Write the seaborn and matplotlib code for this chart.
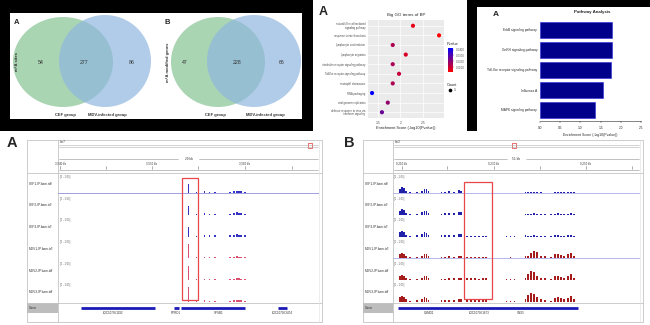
import numpy as np
import pandas as pd
import matplotlib
matplotlib.use("Agg")
import matplotlib.pyplot as plt
import seaborn as sns
from matplotlib.patches import Rectangle, Ellipse
from matplotlib.colors import LinearSegmentedColormap, Normalize
from matplotlib.cm import ScalarMappable

# ---------------- data ----------------
venn_groups = ["CEF group", "MDV-infected group"]
venn_sites = [54, 277, 86]
venn_genes = [47, 228, 66]
venn_titles = ["m\u2076A sites", "m\u2076A modified genes"]

go_terms = ["natural killer cell mediated\nsignaling pathway", "response to interferon-beta",
            "lymphocyte costimulation", "lymphocyte migration",
            "interleukin receptor signaling pathway", "Toll-like receptor signaling pathway",
            "neutrophil chemotaxis", "RNA packaging", "viral genome replication",
            "defense response to virus via\ninterferon signaling"]
go_scores = [2.28, 2.86, 1.83, 2.12, 1.83, 1.97, 1.83, 1.37, 1.72, 1.59]
go_pvalues = [0.0052, 0.0014, 0.0148, 0.0076, 0.0148, 0.0107, 0.0148, 0.0427, 0.0191, 0.0257]
go_counts = [1, 1, 1, 1, 1, 1, 1, 1, 1, 1]
go_ticks = [1.5, 2.0, 2.5]
pv_ticks = [0.01, 0.02, 0.03, 0.04]

kegg_terms = ["ErbB signaling pathway", "GnRH signaling pathway",
              "Toll-like receptor signaling pathway", "Influenza A", "MAPK signaling pathway"]
kegg_scores = [1.78, 1.78, 1.75, 1.55, 1.35]
kegg_ticks = [0.0, 0.5, 1.0, 1.5, 2.0, 2.5]

track_names = ["CEF1-IP.bam.tdf", "CEF2-IP.bam.tdf", "CEF3-IP.bam.tdf",
               "MDV1-IP.bam.tdf", "MDV2-IP.bam.tdf", "MDV3-IP.bam.tdf"]

A_pos = [50.0, 53.0, 56.1, 58.0, 60.2, 65.9, 67.4, 68.6, 69.3, 70.1, 71.6]
A_cef1 = [0.48, 0.08, 0.10, 0.06, 0.05, 0.06, 0.10, 0.14, 0.12, 0.10, 0.07]
A_cef2 = [0.45, 0.06, 0.09, 0.07, 0.05, 0.05, 0.09, 0.13, 0.11, 0.08, 0.06]
A_cef3 = [0.50, 0.05, 0.08, 0.08, 0.06, 0.06, 0.10, 0.12, 0.10, 0.09, 0.06]
A_mdv1 = [0.72, 0.04, 0.06, 0.05, 0.04, 0.05, 0.08, 0.10, 0.09, 0.07, 0.05]
A_mdv2 = [0.70, 0.04, 0.05, 0.05, 0.03, 0.05, 0.07, 0.11, 0.08, 0.06, 0.05]
A_mdv3 = [0.74, 0.05, 0.06, 0.04, 0.04, 0.05, 0.08, 0.10, 0.09, 0.07, 0.05]
A_gene_start = [8.7, 44.3, 47.0, 84.1]
A_gene_end = [37.1, 46.2, 71.6, 87.9]
A_gene_names = ["LOC107051192", "RPRD1", "SPSB1", "LOC107053474"]
A_gene_labpos = [21.0, 45.0, 61.4, 86.0]
A_ticks = [0.8, 18.5, 36.0, 53.8, 71.6, 89.5]
A_tick_labels = ["3,540 kb", "", "3,550 kb", "", "3,560 kb", ""]

B_pos = [2.8, 3.6, 4.4, 5.2, 6.8, 9.6, 11.6, 12.8, 13.6, 14.4, 19.6, 21.2, 22.8, 24.8,
         26.8, 27.6, 30.0, 31.6, 33.2, 34.8, 36.4, 37.6, 46.0, 47.6, 49.2, 53.6, 54.8,
         56.0, 57.2, 58.4, 60.0, 61.6, 64.0, 65.6, 66.8, 68.0, 69.2, 70.8, 72.0, 73.2]
B_cef1 = [0.22, 0.32, 0.28, 0.12, 0.05, 0.07, 0.14, 0.22, 0.20, 0.10, 0.07, 0.09, 0.10, 0.09,
          0.16, 0.14, 0.03, 0.02, 0.02, 0.02, 0.02, 0.03, 0.01, 0.02, 0.02, 0.07, 0.05,
          0.06, 0.08, 0.05, 0.04, 0.03, 0.03, 0.06, 0.08, 0.05, 0.04, 0.07, 0.08, 0.05]
B_cef2 = [0.20, 0.30, 0.26, 0.12, 0.05, 0.06, 0.13, 0.20, 0.19, 0.10, 0.06, 0.08, 0.10, 0.08,
          0.15, 0.13, 0.02, 0.02, 0.02, 0.02, 0.02, 0.02, 0.01, 0.02, 0.02, 0.06, 0.06,
          0.05, 0.08, 0.05, 0.04, 0.03, 0.03, 0.07, 0.08, 0.05, 0.04, 0.06, 0.08, 0.05]
B_cef3 = [0.22, 0.30, 0.25, 0.10, 0.04, 0.07, 0.12, 0.21, 0.18, 0.09, 0.06, 0.08, 0.09, 0.09,
          0.15, 0.14, 0.02, 0.02, 0.02, 0.02, 0.02, 0.02, 0.01, 0.02, 0.01, 0.06, 0.05,
          0.05, 0.07, 0.05, 0.04, 0.03, 0.03, 0.06, 0.07, 0.05, 0.04, 0.06, 0.07, 0.05]
B_mdv1 = [0.20, 0.28, 0.24, 0.14, 0.05, 0.07, 0.14, 0.24, 0.20, 0.10, 0.06, 0.08, 0.10, 0.09,
          0.12, 0.12, 0.08, 0.07, 0.08, 0.06, 0.07, 0.07, 0.03, 0.04, 0.03, 0.10, 0.14,
          0.28, 0.35, 0.30, 0.14, 0.10, 0.05, 0.20, 0.22, 0.18, 0.12, 0.20, 0.28, 0.12]
B_mdv2 = [0.20, 0.26, 0.22, 0.12, 0.05, 0.06, 0.12, 0.22, 0.18, 0.10, 0.06, 0.07, 0.09, 0.08,
          0.12, 0.11, 0.10, 0.09, 0.08, 0.07, 0.08, 0.08, 0.03, 0.03, 0.03, 0.12, 0.30,
          0.48, 0.40, 0.22, 0.12, 0.08, 0.05, 0.18, 0.20, 0.16, 0.12, 0.22, 0.30, 0.10]
B_mdv3 = [0.21, 0.27, 0.23, 0.13, 0.05, 0.06, 0.13, 0.22, 0.19, 0.10, 0.06, 0.08, 0.09, 0.08,
          0.12, 0.12, 0.10, 0.09, 0.09, 0.07, 0.08, 0.08, 0.03, 0.04, 0.03, 0.12, 0.32,
          0.46, 0.38, 0.24, 0.12, 0.08, 0.05, 0.18, 0.22, 0.16, 0.12, 0.20, 0.30, 0.12]
B_gene_start = [2.0]
B_gene_end = [74.8]
B_gene_names = ["CSMD1", "LOC107051673", "SNX5"]
B_gene_labpos = [14.8, 34.8, 51.6]
B_ticks = [3.6, 22.0, 40.8, 59.6, 78.0, 96.8]
B_tick_labels = ["9,210 kb", "", "9,230 kb", "", "9,250 kb", ""]

# ---------------- figure ----------------
sns.set_theme(style="white")
plt.rcParams["font.family"] = ["Liberation Sans", "DejaVu Sans"]
W, H = 650, 325
fig = plt.figure(figsize=(6.5, 3.25), dpi=100)
fig.patch.set_facecolor("white")


def ax_px(x0, y0, x1, y1, z=1):
    a = fig.add_axes([x0 / W, 1 - y1 / H, (x1 - x0) / W, (y1 - y0) / H])
    a.set_zorder(z)
    return a


page = ax_px(0, 0, W, H, z=0)
page.set_xlim(0, W)
page.set_ylim(H, 0)
page.axis("off")

# black backgrounds
page.add_patch(Rectangle((0, 0), 313, 131, color="black", lw=0))
page.add_patch(Rectangle((10, 13), 292, 106, color="white", lw=0))
page.add_patch(Rectangle((467, 0), 10, 131, color="black", lw=0))
page.add_patch(Rectangle((467, 0), 183, 7, color="black", lw=0))

# ---------------- Venn diagrams ----------------
green, blue = "#8DC79A", "#8FB7DF"
venn_specs = [
    dict(g=(63, 100), b=(105, 92), vals=venn_sites, title=venn_titles[0], tx=17,
         lab="A", labx=17, num_x=(41, 84, 132), grp_x=(65, 107)),
    dict(g=(218, 94), b=(254, 94), vals=venn_genes, title=venn_titles[1], tx=168,
         lab="B", labx=167, num_x=(185, 237, 282), grp_x=(215, 265)),
]
for sp in venn_specs:
    page.add_patch(Ellipse((sp["g"][0], 62), sp["g"][1], 90, color=green, alpha=0.75, lw=0))
    page.add_patch(Ellipse((sp["b"][0], 61), sp["b"][1], 92, color=blue, alpha=0.7, lw=0))
    for nx, v in zip(sp["num_x"], sp["vals"]):
        page.text(nx, 62, str(v), fontsize=3.8, ha="center", va="center", color="#333333")
    for gx, gname in zip(sp["grp_x"], venn_groups):
        page.text(gx, 115, gname, fontsize=3.0, fontweight="bold",
                  ha="center", va="center", color="#333333")
    page.text(sp["tx"], 62, sp["title"], rotation=90, fontsize=3.0, fontweight="bold",
              ha="center", va="center", color="#333333")
    page.text(sp["labx"], 22, sp["lab"], fontsize=5.5, fontweight="bold",
              ha="center", va="center")

# ---------------- GO dot plot ----------------
page.text(323, 12, "A", fontsize=9, fontweight="bold", ha="center", va="center")
page.text(406, 15, "Big GO terms of BP", fontsize=3.2, ha="center", va="center")
go_df = pd.DataFrame({"term": go_terms, "score": go_scores,
                      "pvalue": go_pvalues, "count": go_counts})
cmap = LinearSegmentedColormap.from_list("rb", ["#FF0000", "#0000FF"])
pnorm = Normalize(min(go_pvalues), max(go_pvalues))
ax_go = ax_px(368, 20, 444, 118)
ax_go.set_facecolor("#EBEBEB")
sns.scatterplot(data=go_df, x="score", y="term", hue="pvalue", palette=cmap,
                hue_norm=pnorm, s=9, linewidth=0, legend=False, ax=ax_go, zorder=3)
ax_go.set_xlim(1.28, 2.97)
ax_go.set_ylim(len(go_terms) - 0.4, -0.6)
ax_go.set_xticks(go_ticks)
ax_go.set_xticklabels([f"{t:g}" for t in go_ticks])
ax_go.grid(True, color="white", lw=0.5)
ax_go.set_axisbelow(True)
for s in ax_go.spines.values():
    s.set_visible(False)
ax_go.tick_params(axis="x", labelsize=2.4, colors="#4D4D4D", length=1, width=0.3, pad=1)
ax_go.tick_params(axis="y", labelsize=1.9, colors="#4D4D4D", length=1, width=0.3, pad=1)
for t in ax_go.get_yticklabels():
    t.set_linespacing(0.9)
ax_go.set_xlabel("Enrichment Score (-log10(Pvalue))", fontsize=2.8, labelpad=1)
ax_go.set_ylabel("")

cax = ax_px(448, 48, 453, 72)
cb = fig.colorbar(ScalarMappable(norm=pnorm, cmap=cmap), cax=cax)
cb.set_ticks(pv_ticks)
cb.set_ticklabels([f"{t:.4f}" for t in pv_ticks])
cb.ax.tick_params(labelsize=2.0, length=0.8, width=0.3, pad=1, colors="#4D4D4D")
cb.outline.set_visible(False)
page.text(447, 44, "Pvalue", fontsize=2.8, ha="left", va="center")
page.text(447, 85, "Count", fontsize=2.8, ha="left", va="center")
page.scatter([450], [90], s=7, color="black", lw=0)
page.text(454, 90, str(go_counts[0]), fontsize=2.4, ha="left", va="center")

# ---------------- Pathway bar chart ----------------
page.text(496, 15, "A", fontsize=6, fontweight="bold", ha="center", va="center")
page.text(592, 12, "Pathway Analysis", fontsize=3.2, fontweight="bold",
          ha="center", va="center")
kegg_df = pd.DataFrame({"term": kegg_terms, "score": kegg_scores})
ax_pw = ax_px(540, 20, 641, 120)
sns.barplot(data=kegg_df, x="score", y="term", orient="h", color="#00008B",
            edgecolor="#2828E0", linewidth=0.4, width=0.8, saturation=1, ax=ax_pw)
ax_pw.set_xlim(0, 2.5)
ax_pw.set_ylim(4.5, -0.5)
for k in ["top", "right", "left"]:
    ax_pw.spines[k].set_visible(False)
ax_pw.spines["bottom"].set_linewidth(0.4)
ax_pw.spines["bottom"].set_position(("outward", 1))
ax_pw.set_xticks(kegg_ticks)
ax_pw.set_xticklabels([f"{t:.1f}" for t in kegg_ticks])
ax_pw.tick_params(axis="x", labelsize=2.3, length=1.5, width=0.3, pad=2, bottom=True)
ax_pw.tick_params(axis="y", labelsize=2.3, length=0, pad=2)
ax_pw.set_xlabel("Enrichment Score (-log10(Pvalue))", fontsize=2.5, labelpad=2)
ax_pw.set_ylabel("")
ax_pw.patch.set_alpha(0)


# ---------------- IGV panels ----------------
def igv(x0, x1, lab_w, pos, heights, colors, base_cols, gene_start, gene_end, gene_names,
        gene_labpos, ticks, tick_labels, scale_label, chrom, mark, box, label, lab_xy, bar_w):
    y0, yh, yt, yg, y1 = 140, 173, 303, 313, 322
    xd = x0 + lab_w
    line = "#C4C4C4"
    page.add_patch(Rectangle((x0, y0), x1 - x0, y1 - y0, fill=False, ec=line, lw=0.6))
    page.plot([x0, x1], [yh, yh], color=line, lw=0.6)
    page.plot([x0, x1], [yt, yt], color=line, lw=0.6)
    page.plot([xd, xd], [y0, y1], color=line, lw=0.6)
    page.plot([x1 - 3, x1 - 3], [y0, y1], color="#E0E0E0", lw=0.4)
    page.add_patch(Rectangle((x0, yt), lab_w, yg - yt, color="#BDBDBD", lw=0))
    page.text(x0 + 2, yt + 5, "Gene", fontsize=2.4, ha="left", va="center", color="#333333")
    page.text(*lab_xy, label, fontsize=10.5, fontweight="bold", ha="center", va="center")

    # ruler
    rax = ax_px(xd, y0, x1 - 3, yh, z=2)
    rax.set_xlim(0, 100)
    rax.set_ylim(33, 0)
    rax.axis("off")
    rax.text(0.8, 2.5, chrom, fontsize=2.2, ha="left", va="center", color="#333333")
    rax.plot([0.5, 99.5], [5.5, 5.5], color="#B0B0B0", lw=0.4)
    rax.plot([0.5, 99.5], [7.0, 7.0], color="#B0B0B0", lw=0.4)
    rax.add_patch(Rectangle((mark - 0.9, 3.5), 1.8, 5, fill=False, ec="#E03030", lw=0.5))
    rax.plot([0.5, 46], [19.5, 19.5], color="#909090", lw=0.4)
    rax.plot([54, 99.5], [19.5, 19.5], color="#909090", lw=0.4)
    rax.text(50, 19.5, scale_label, fontsize=2.3, ha="center", va="center", color="#333333")
    for t, tl in zip(ticks, tick_labels):
        rax.plot([t, t], [26.5, 29.5], color="#707070", lw=0.4)
        if tl:
            rax.text(t, 24, tl, fontsize=2.1, ha="center", va="center", color="#333333")
    rax.plot([0.5, 99.5], [30, 30], color="#909090", lw=0.4)

    # tracks
    band = (yt - yh) / 6
    for i in range(6):
        ty = yh + band * i
        page.text(x0 + 2, ty + band / 2, track_names[i], fontsize=2.3, ha="left",
                  va="center", color="#333333")
        tax = ax_px(xd, ty + 1, x1 - 3, ty + band - 1, z=2)
        tax.set_xlim(0, 100)
        tax.set_ylim(0, 1)
        tax.axis("off")
        tax.text(0.6, 0.95, "[0 - 1.00]", fontsize=1.8, ha="left", va="top", color="#555555")
        if base_cols[i]:
            tax.axhline(0.02, color=base_cols[i], lw=0.5)
        tax.bar(pos, heights[i], width=bar_w, bottom=0.02, color=colors[i], lw=0)

    # gene track
    gax = ax_px(xd, yt, x1 - 3, y1, z=2)
    gax.set_xlim(0, 100)
    gax.set_ylim(19, 0)
    gax.axis("off")
    gax.hlines([4.5] * len(gene_start), gene_start, gene_end, color="#1A1AB8", lw=2.0)
    for gp, gn in zip(gene_labpos, gene_names):
        gax.text(gp, 9.5, gn, fontsize=2.2, ha="center", va="center", color="#333333")

    # red highlight box
    bx0, bx1, by0, by1 = box
    over.add_patch(Rectangle((bx0, by0), bx1 - bx0, by1 - by0, fill=False,
                             ec="#E8474A", lw=0.9))


over = ax_px(0, 0, W, H, z=5)
over.set_xlim(0, W)
over.set_ylim(H, 0)
over.axis("off")

cef_a, mdv_a = "#3434C0", "#D9506E"
igv(27, 322, 31, A_pos, [A_cef1, A_cef2, A_cef3, A_mdv1, A_mdv2, A_mdv3],
    [cef_a] * 3 + [mdv_a] * 3, ["#7A7AD8"] * 3 + [None] * 3,
    A_gene_start, A_gene_end, A_gene_names, A_gene_labpos, A_ticks, A_tick_labels,
    "29 kb", "chr7", 96.5, (182, 198, 178, 300), "A", (12, 143), 0.55)

cef_b, mdv_b = "#2020A8", "#A51C1C"
igv(363, 643, 30, B_pos, [B_cef1, B_cef2, B_cef3, B_mdv1, B_mdv2, B_mdv3],
    [cef_b] * 3 + [mdv_b] * 3, ["#9A9AE4"] * 6,
    B_gene_start, B_gene_end, B_gene_names, B_gene_labpos, B_ticks, B_tick_labels,
    "51 kb", "chr2", 49.0, (464, 492, 182, 299), "B", (349, 143), 0.7)

fig.savefig("out.png", dpi=100, facecolor="white")
